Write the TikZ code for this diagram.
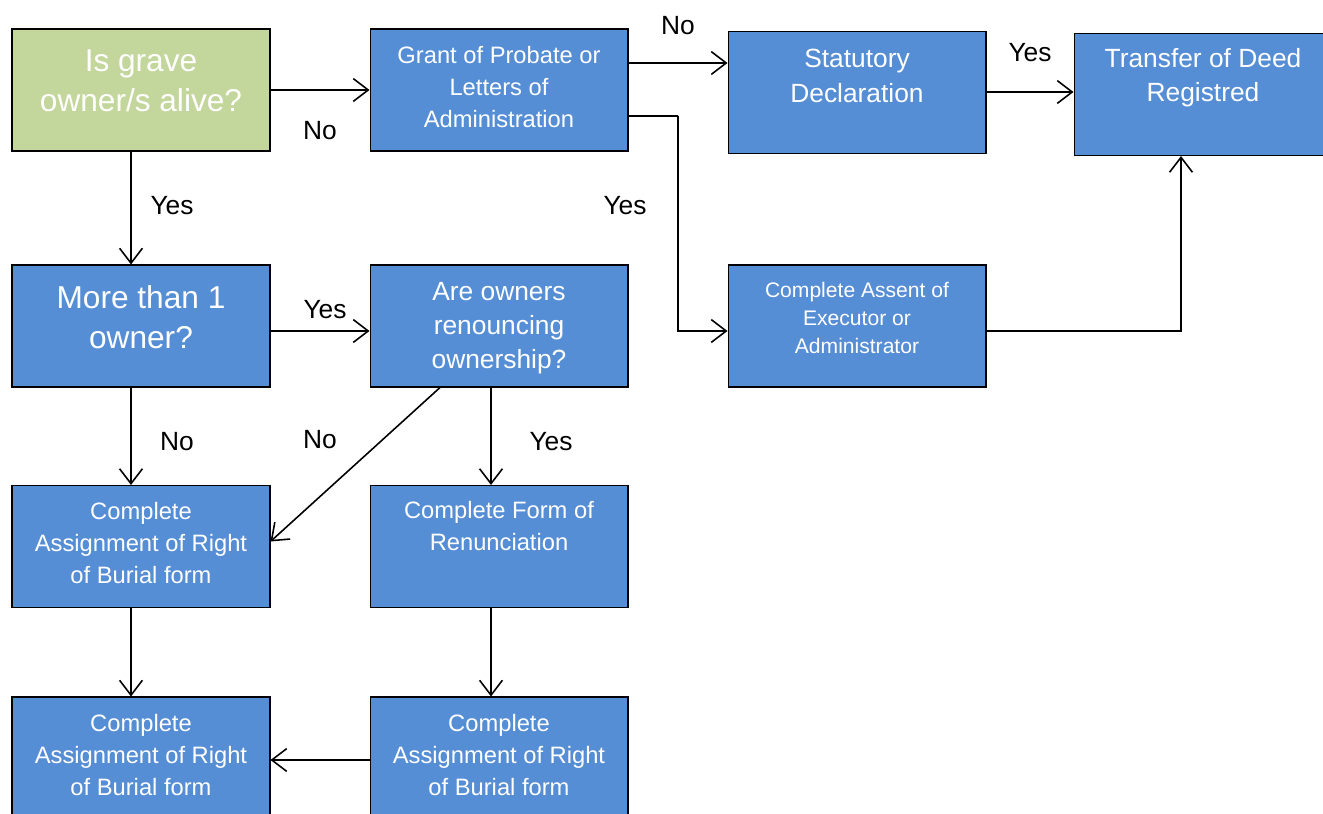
\documentclass[tikz,border=0pt]{standalone}
\usepackage{fontspec}
\setmainfont{Liberation Sans}
\usetikzlibrary{arrows.meta,calc}
\definecolor{boxblue}{RGB}{85,142,213}
\definecolor{boxgreen}{RGB}{195,214,155}
\tikzset{
  box/.style={draw=black,line width=0.6pt,fill=boxblue,minimum width=5.16cm,minimum height=2.44cm,inner sep=0pt},
  txt/.style={text=white,align=center,inner sep=0pt},
  big/.style={font=\fontsize{18}{23}\selectfont},
  mid/.style={font=\fontsize{15}{19.5}\selectfont},
  norm/.style={font=\fontsize{13.5}{18}\selectfont},
  small/.style={font=\fontsize{12}{16}\selectfont},
  lbl/.style={font=\fontsize{15}{18}\selectfont,inner sep=0pt},
  arr/.style={-{Straight Barb[length=8.5pt,width=13pt]},line width=0.9pt},
}
\begin{document}
\begin{tikzpicture}[x=0.02cm,y=-0.02cm]
\clip (0,0) rectangle (1323,814);
% boxes
\node [box,fill=boxgreen] (alive) at (141,90) {};
\node [box] (grant) at (499,90) {};
\node [box] (stat) at (857,92.5) {};
\node [box] (deed) at (1203,94.5) {};
\node [box] (more) at (141,326) {};
\node [box] (renounce) at (499,326) {};
\node [box] (assent) at (857,326) {};
\node [box] (assign1) at (141,546.5) {};
\node [box] (form) at (499,546.5) {};
\node [box] (assign2) at (141,758) {};
\node [box] (assign3) at (499,758) {};
% texts
\node [txt,big] (alivet) at (141,81) {Is grave\\owner/s alive?};
\node [txt,norm] (grantt) at (499,87) {Grant of Probate or\\Letters of\\Administration};
\node [txt,mid] (statt) at (857,76) {Statutory\\Declaration};
\node [txt,mid] (deedt) at (1203,78) {Transfer of Deed\\Registred};
\node [txt,big] (moret) at (141,317) {More than 1\\owner?};
\node [txt,mid] (renouncet) at (499,328) {Are owners\\renouncing\\ownership?};
\node [txt,small] (assentt) at (857,318) {Complete Assent of\\Executor or\\Administrator};
\node [txt,norm] (assign1t) at (141,543) {Complete\\Assignment of Right\\of Burial form};
\node [txt,norm] (formt) at (499,526) {Complete Form of\\Renunciation};
\node [txt,norm] (assign2t) at (141,755) {Complete\\Assignment of Right\\of Burial form};
\node [txt,norm] (assign3t) at (499,755) {Complete\\Assignment of Right\\of Burial form};
% connectors
\draw [arr] (alive.east) -- (grant.west);
\draw [arr] ([yshift=0.54cm]grant.east) coordinate (g1) -- (g1 -| stat.west);
\draw [arr] ([yshift=0.01cm]stat.east) -- ([yshift=0.01cm]stat.east -| deed.west);
\draw [arr] ([yshift=-0.52cm]grant.east) coordinate (g2) -| ($(g2)!0.5!(g2 -| assent.west)$) |- ([yshift=-0.1cm]assent.west);
\draw [arr] ([yshift=-0.1cm]assent.east) -| ([xshift=-0.44cm]deed.south);
\draw [arr] ([xshift=-0.2cm]alive.south) -- ([xshift=-0.2cm]more.north);
\draw [arr] ([yshift=-0.1cm]more.east) -- ([yshift=-0.1cm]renounce.west);
\draw [arr] ([xshift=-0.2cm]more.south) -- ([xshift=-0.2cm]assign1.north);
\draw [arr] ([xshift=-1.18cm]renounce.south) -- ([yshift=0.1cm]assign1.east);
\draw [arr] ([xshift=-0.16cm]renounce.south) -- ([xshift=-0.16cm]form.north);
\draw [arr] ([xshift=-0.2cm]assign1.south) -- ([xshift=-0.2cm]assign2.north);
\draw [arr] ([xshift=-0.16cm]form.south) -- ([xshift=-0.16cm]assign3.north);
\draw [arr] ([yshift=-0.04cm]assign3.west) -- ([yshift=-0.04cm]assign2.east);
% labels
\node [lbl] (no1) at (320,131) {No};
\node [lbl] (no2) at (678,26) {No};
\node [lbl] (yes1) at (1030,53) {Yes};
\node [lbl] (yes2) at (625,206) {Yes};
\node [lbl] (yes3) at (172,206) {Yes};
\node [lbl] (yes4) at (325,310) {Yes};
\node [lbl] (no3) at (177,442) {No};
\node [lbl] (no4) at (320,440) {No};
\node [lbl] (yes5) at (551,442) {Yes};
\end{tikzpicture}
\end{document}
